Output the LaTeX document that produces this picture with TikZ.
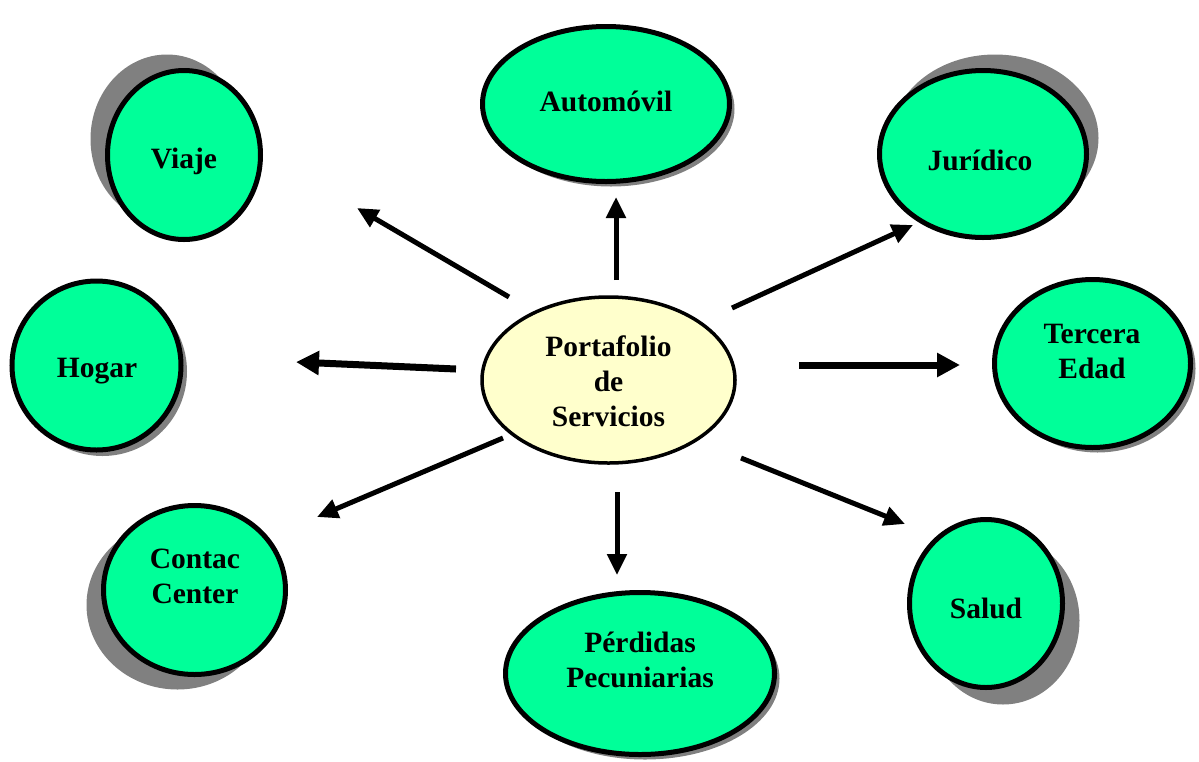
\documentclass[tikz,border=0pt]{standalone}
\usepackage{fontspec}
\setmainfont{Liberation Serif}
\usetikzlibrary{arrows.meta,shapes.geometric}
\definecolor{bubgreen}{HTML}{00FF99}
\definecolor{centeryellow}{HTML}{FFFFCC}
\definecolor{shadowgray}{HTML}{808080}
\tikzset{
  bub/.style={ellipse, draw=black, line width=5pt, fill=bubgreen, inner sep=0pt},
  shadowbub/.style={ellipse, fill=shadowgray, inner sep=0pt},
  hub/.style={ellipse, draw=black, line width=3.5pt, fill=centeryellow, inner sep=0pt},
  lbl/.style={align=center, font=\bfseries\fontsize{29.5}{35}\selectfont, inner sep=0pt},
  thinarrow/.style={line width=5pt, -{Triangle[length=21pt,width=19pt]}},
  thickarrow/.style={line width=7pt, -{Triangle[length=23pt,width=23pt]}}
}
% #1 name, #2 centre, #3 width, #4 height, #5 shadow shift, #6 text position, #7 text
\newcommand\mybubble[7]{%
  \node[shadowbub, minimum width=#3, minimum height=#4, shift={#5}] (#1-shadow) at #2 {};
  \node[bub, minimum width=#3, minimum height=#4] (#1) at #2 {};
  \node[lbl] (#1-text) at #6 {#7};
}
\begin{document}
\begin{tikzpicture}[x=1pt,y=-1pt]
\useasboundingbox (0,0) rectangle (1199,761);

\mybubble{viaje}{(184,155)}{153pt}{169pt}{(-17,-16)}{(184,161)}{Viaje}
\mybubble{auto}{(606,104)}{247pt}{155pt}{(5,5)}{(606,101)}{Automóvil}
\mybubble{juridico}{(983,154)}{207pt}{167pt}{(12,-16)}{(980,160)}{Jurídico}
\mybubble{hogar}{(96.5,365.5)}{169pt}{169pt}{(6,6)}{(97,371)}{Hogar}
\mybubble{tercera}{(1092.5,363.5)}{196pt}{168pt}{(5,5)}{(1092,351)}{Tercera\\Edad}
\mybubble{contac}{(194.5,590)}{182pt}{169pt}{(-17,15)}{(195,576)}{Contac\\Center}
\mybubble{perdidas}{(640,673.5)}{269pt}{162pt}{(5,5)}{(640,660)}{Pérdidas\\Pecuniarias}
\mybubble{salud}{(986,603.5)}{153pt}{168pt}{(17,17)}{(986,608)}{Salud}

\node[hub, minimum width=253pt, minimum height=166pt] (hub) at (608.5,380) {};
\node[lbl] (hub-text) at (608.5,381) {Portafolio\\de\\Servicios};

\coordinate (a1s) at (509,297); \coordinate (a1e) at (357,208);
\coordinate (a2s) at (456,369); \coordinate (a2e) at (296,362);
\coordinate (a3s) at (616,280); \coordinate (a3e) at (616,197);
\coordinate (a4s) at (732,308); \coordinate (a4e) at (913,225);
\coordinate (a5s) at (799,365); \coordinate (a5e) at (960,365);
\coordinate (a6s) at (503,438); \coordinate (a6e) at (317,517);
\coordinate (a7s) at (617,492); \coordinate (a7e) at (617,575);
\coordinate (a8s) at (741,458); \coordinate (a8e) at (905,524);

\draw[thinarrow] (a1s) -- (a1e);
\draw[thickarrow] (a2s) -- (a2e);
\draw[thinarrow] (a3s) -- (a3e);
\draw[thinarrow] (a4s) -- (a4e);
\draw[thickarrow] (a5s) -- (a5e);
\draw[thinarrow] (a6s) -- (a6e);
\draw[thinarrow] (a7s) -- (a7e);
\draw[thinarrow] (a8s) -- (a8e);
\end{tikzpicture}
\end{document}
